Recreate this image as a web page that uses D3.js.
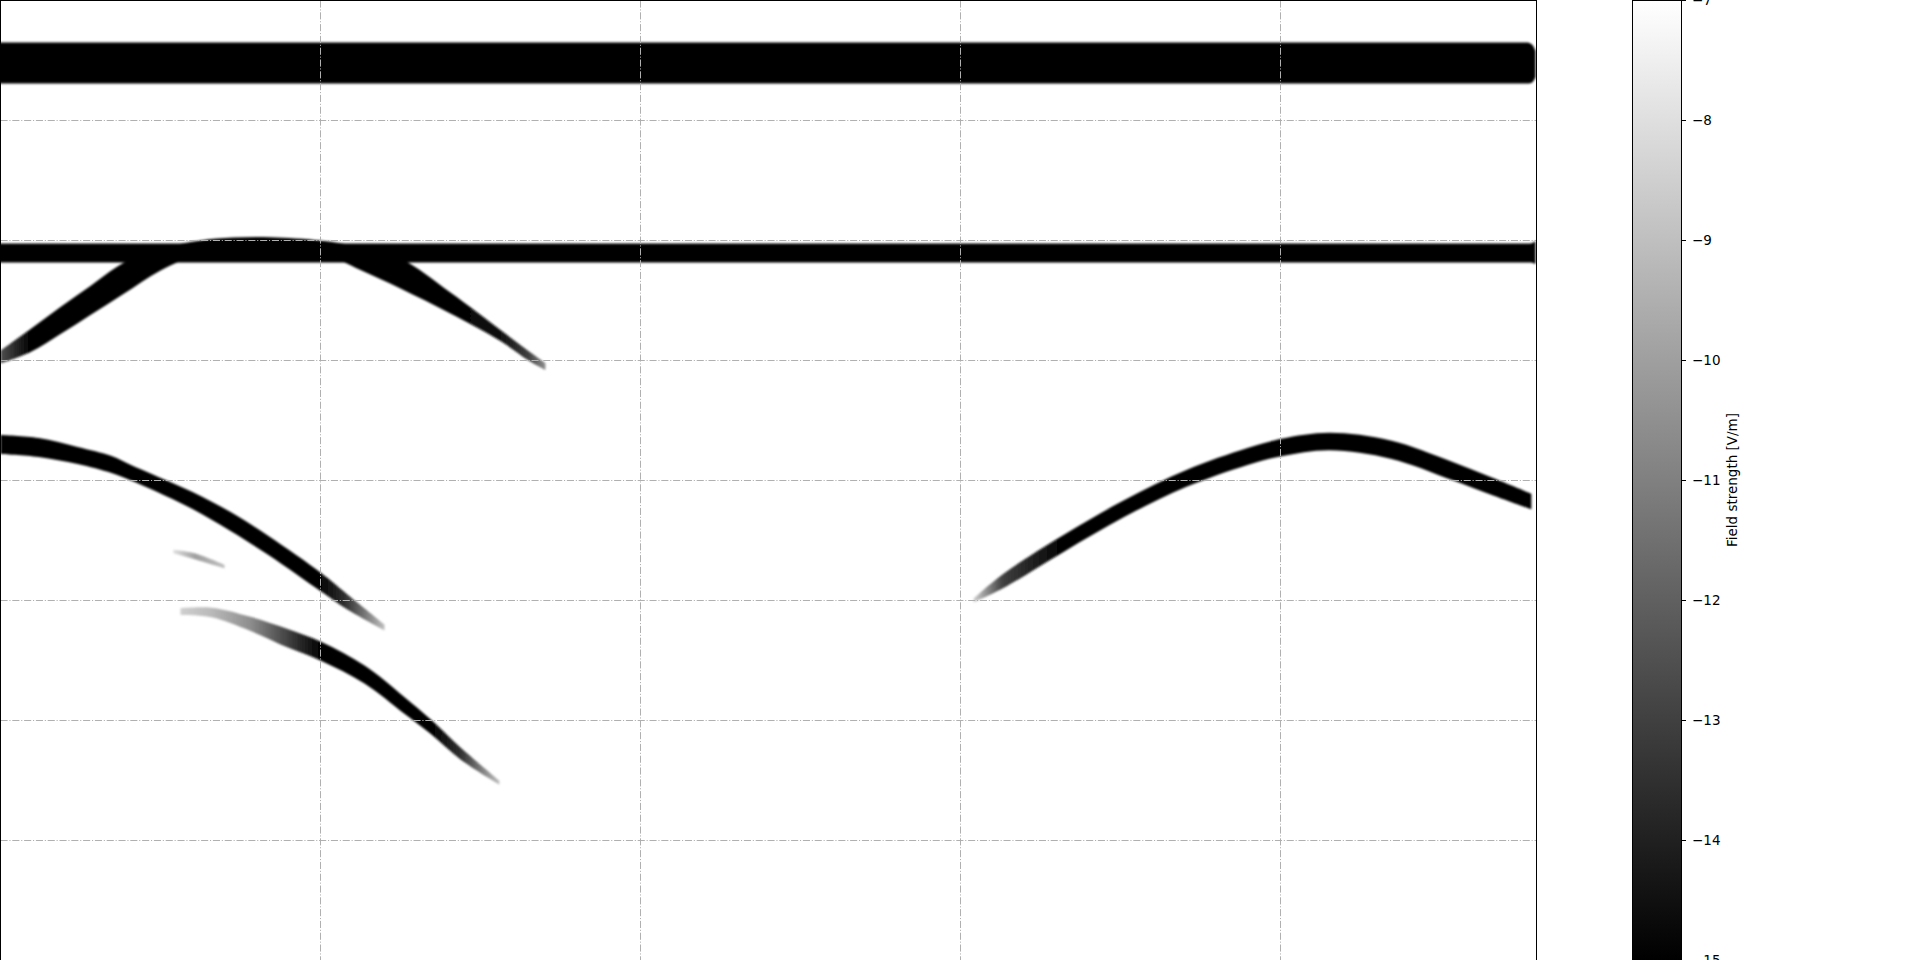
<!DOCTYPE html>
<html><head><meta charset="utf-8">
<script src="https://cdn.jsdelivr.net/npm/d3@7"></script>
<style>html,body{margin:0;padding:0;background:#fff;} svg{display:block;font-family:"DejaVu Sans",sans-serif;}</style>
</head><body><svg id="c" width="1920" height="960"></svg>
<script>
// Ridges of high field: each point = [x, y, spread (y extent), field value log10 V/m]
const bandTop = [[-0.05,7.479,0.342,-15],[4.77,7.479,0.342,-15],[4.785,7.475,0.32,-15],[4.797,7.47,0.22,-15]];
const bandFlat = [[-0.05,5.896,0.158,-15],[4.78,5.896,0.158,-15],[4.797,5.9,0.19,-15]];
const archLeft = [
  [0,5.029,0.108,-12.5],[0.094,5.167,0.192,-15],[0.1875,5.333,0.225,-15],[0.281,5.5,0.242,-15],
  [0.384,5.683,0.258,-15],[0.5,5.842,0.183,-15],[0.625,5.946,0.108,-15],[0.728,5.983,0.083,-15],
  [0.844,5.994,0.067,-15],[1.0,5.95,0.1,-15],[1.125,5.85,0.192,-15],[1.25,5.725,0.25,-15],
  [1.406,5.479,0.175,-15],[1.5625,5.208,0.092,-14.5],[1.65,5.04,0.08,-13],[1.703,4.95,0.06,-10.5]
];
const branchUpper = [
  [0,4.3,0.158,-15],[0.119,4.275,0.158,-15],[0.241,4.208,0.142,-15],[0.347,4.133,0.142,-15],
  [0.406,4.067,0.13,-15],[0.478,3.983,0.13,-15],[0.6,3.833,0.142,-15],[0.719,3.658,0.158,-15],
  [0.8375,3.458,0.158,-15],[1.003,3.15,0.155,-14.8],[1.078,3.0,0.13,-13.5],[1.2,2.775,0.05,-9]
];
const streak = [[0.54,3.408,0.03,-8],[0.609,3.367,0.05,-10],[0.7,3.283,0.03,-9]];
const branchLower = [
  [0.5625,2.908,0.058,-8.5],[0.659,2.9,0.08,-9.2],[0.778,2.808,0.117,-10.5],[0.9,2.683,0.155,-13],
  [1.003,2.575,0.158,-15],[1.1375,2.383,0.15,-15],[1.259,2.133,0.14,-15],[1.344,1.95,0.12,-15],
  [1.4375,1.725,0.098,-13.5],[1.559,1.483,0.033,-9]
];
const archRight = [
  [3.041,3.0,0.033,-8.5],[3.131,3.158,0.117,-13],[3.322,3.475,0.14,-15],[3.5125,3.767,0.14,-15],
  [3.706,4.017,0.14,-15],[3.897,4.2,0.14,-15],[4.003,4.275,0.145,-15],[4.153,4.325,0.145,-15],
  [4.344,4.258,0.152,-15],[4.534,4.083,0.152,-15],[4.6625,3.95,0.145,-15],[4.784,3.825,0.13,-15]
];
const flatRidges = [bandTop, bandFlat];
const curvedRidges = [archLeft, branchUpper, streak, branchLower, archRight];
const xGrid = [1,2,3,4];
const yGrid = [1,2,3,4,5,6,7];
const cbTicks = [-15,-14,-13,-12,-11,-10,-9,-8,-7];
const cbLabel = "Field strength [V/m]";

const svg = d3.select("#c");
svg.append("rect").attr("width",1920).attr("height",960).attr("fill","#fff");
const x = d3.scaleLinear().domain([0,4.8]).range([0.5,1536.5]);
const y = d3.scaleLinear().domain([8,0]).range([0.5,960.5]);
const color = d3.scaleLinear().domain([-15,-7]).range(["#000","#fff"]).clamp(true);

const defs = svg.append("defs");
defs.append("clipPath").attr("id","plotClip").append("rect")
  .attr("x",x(0)).attr("y",y(8)).attr("width",x(4.8)-x(0)).attr("height",y(0)-y(8));
defs.append("filter").attr("id","soft").attr("x","-2%").attr("y","-5%").attr("width","104%").attr("height","110%")
  .append("feGaussianBlur").attr("stdDeviation",0.9);

function gradient(r,id){
  const x1 = x(r[0][0]), x2 = x(r[r.length-1][0]);
  const g = defs.append("linearGradient").attr("id",id).attr("gradientUnits","userSpaceOnUse")
    .attr("x1",x1).attr("x2",x2).attr("y1",0).attr("y2",0);
  r.forEach(p=>g.append("stop").attr("offset",(x(p[0])-x1)/(x2-x1)).attr("stop-color",color(p[3])));
  return "url(#"+id+")";
}

const areaFlat = d3.area()
  .x(d=>x(d[0])).y0(d=>y(d[1]+d[2]/2)).y1(d=>y(d[1]-d[2]/2))
  .curve(d3.curveMonotoneX);
const areaCurved = d3.area()
  .x(d=>x(d[0])).y0(d=>y(d[1]+d[2]/2)).y1(d=>y(d[1]-d[2]/2))
  .curve(d3.curveCatmullRom.alpha(0.5));

const plot = svg.append("g").attr("clip-path","url(#plotClip)");
const img = plot.append("g").attr("filter","url(#soft)");
img.selectAll("path.flat").data(flatRidges).join("path").attr("class","flat")
  .attr("d",areaFlat).attr("fill",(d,i)=>gradient(d,"fg"+i));
img.selectAll("path.curved").data(curvedRidges).join("path").attr("class","curved")
  .attr("d",areaCurved).attr("fill",(d,i)=>gradient(d,"cg"+i));

// grid
const grid = plot.append("g").attr("stroke","#b0b0b0").attr("stroke-width",1).attr("stroke-dasharray","7.1,1.8,1.1,1.8");
grid.selectAll("line.v").data(xGrid).join("line").attr("class","v")
  .attr("x1",d=>x(d)).attr("x2",d=>x(d)).attr("y1",y(8)).attr("y2",y(0));
grid.selectAll("line.h").data(yGrid).join("line").attr("class","h")
  .attr("y1",d=>y(d)).attr("y2",d=>y(d)).attr("x1",x(0)).attr("x2",x(4.8));

// frame
svg.append("rect").attr("x",x(0)).attr("y",y(8)).attr("width",x(4.8)-x(0)).attr("height",y(0)-y(8))
  .attr("fill","none").attr("stroke","#000").attr("stroke-width",1);

// colorbar
const cb = d3.scaleLinear().domain([-15,-7]).range([960,0]);
const cbg = defs.append("linearGradient").attr("id","cbg").attr("x1",0).attr("x2",0).attr("y1",1).attr("y2",0);
cbTicks.forEach(t=>cbg.append("stop").attr("offset",(t+15)/8).attr("stop-color",color(t)));
svg.append("rect").attr("x",1632.5).attr("y",cb(-7)+0.5).attr("width",49).attr("height",cb(-15)-cb(-7))
  .attr("fill","url(#cbg)").attr("stroke","#000").attr("stroke-width",1);
const ax = svg.append("g").attr("transform","translate(1681,0)")
  .call(d3.axisRight(cb).tickValues(cbTicks).tickSize(5).tickPadding(6).tickFormat(d3.format("d")));
ax.select(".domain").remove();
ax.selectAll("text").attr("font-size","13.5px").attr("font-family","DejaVu Sans").attr("fill","#000");
ax.selectAll("line").attr("stroke","#000");
svg.append("text").attr("transform","translate(1732,480) rotate(-90)")
  .attr("text-anchor","middle").attr("dominant-baseline","central")
  .attr("font-size","13.5px").attr("fill","#000").text(cbLabel);
</script></body></html>
